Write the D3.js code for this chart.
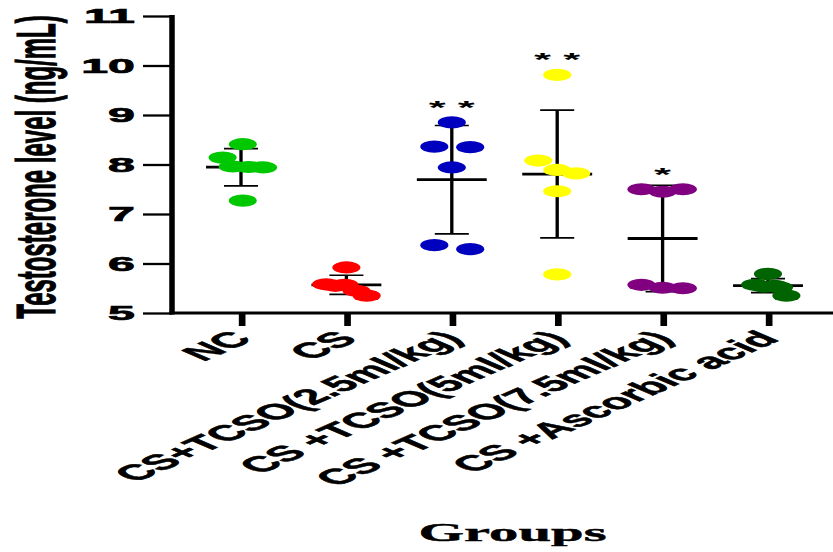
<!DOCTYPE html>
<html>
<head>
<meta charset="utf-8">
<script src="https://cdn.jsdelivr.net/npm/d3@7"></script>
<style>
  html, body { margin: 0; padding: 0; background: #fff; overflow: hidden; }
  svg { display: block; }
</style>
</head>
<body>
<svg id="chart"></svg>
<script>
// Groups and their dot colours
const groups = ["NC", "CS", "CS+TCSO(2.5ml/kg)", "CS +TCSO(5ml/kg)", "CS +TCSO(7.5ml/kg)", "CS +Ascorbic acid"];
const groupColors = ["#00c800", "#ff0000", "#0000bf", "#ffff00", "#800080", "#006400"];

// Testosterone (ng/mL), six animals per group
const valuesNC     = [8.41, 8.14, 7.96, 7.94, 7.95, 7.27];
const valuesCS     = [5.92, 5.58, 5.57, 5.45, 5.35, 5.55];
const valuesTCSO25 = [8.85, 8.36, 8.35, 7.94, 6.37, 6.29];
const valuesTCSO5  = [9.81, 8.08, 7.89, 7.82, 7.46, 5.78];
const valuesTCSO75 = [7.50, 7.45, 7.50, 5.57, 5.51, 5.50];
const valuesAA     = [5.79, 5.57, 5.55, 5.35, 5.53, 5.52];

// Horizontal scatter slot of each point (so overlapping dots stay visible)
const slotsNC     = [0.1, -1.0, -0.45, 1.2, 0.4, 0.1];
const slotsCS     = [0, -1.1, -0.1, 0.55, 1.1, -0.6];
const slotsTCSO25 = [0, -0.95, 1.0, 0, -0.95, 1.0];
const slotsTCSO5  = [0, -1.03, 0, 1.03, 0, 0];
const slotsTCSO75 = [-1.15, 0, 1.1, -1.15, 0, 1.1];
const slotsAA     = [0, -0.7, 0.35, 1.0, -0.2, 0.6];

const significance = ["", "", "* *", "* *", "*", ""];
const yTicks = [5, 6, 7, 8, 9, 10, 11];

const groupValues = [valuesNC, valuesCS, valuesTCSO25, valuesTCSO5, valuesTCSO75, valuesAA];
const groupSlots  = [slotsNC, slotsCS, slotsTCSO25, slotsTCSO5, slotsTCSO75, slotsAA];

// The figure is drawn in a narrow coordinate space and stretched to fill the page width
const W = 833, H = 552, SX = 2.3, VW = W / SX;
const svg = d3.select("#chart")
  .attr("width", W).attr("height", H)
  .attr("viewBox", `0 0 ${VW} ${H}`)
  .attr("preserveAspectRatio", "none");

const FONT = "'Liberation Sans', Arial, Helvetica, sans-serif";
const plotLeft = 172 / SX;
const y = d3.scaleLinear().domain([5, 11]).range([313, 16]);
const x = d3.scalePoint().domain(groups).range([241 / SX, 768 / SX]);

// Y axis
const yAxis = svg.append("g")
  .attr("transform", `translate(${plotLeft},0)`)
  .call(d3.axisLeft(y).tickValues(yTicks).tickSize(12.6).tickPadding(3.5).tickFormat(d3.format("d")));
yAxis.select(".domain").remove();
yAxis.selectAll(".tick line").attr("stroke", "#000").attr("stroke-width", 2.3);
yAxis.selectAll(".tick text")
  .attr("fill", "#000")
  .style("font-family", FONT).style("font-weight", "bold").style("font-size", "21px")
  .attr("stroke", "#000").attr("stroke-width", 0.7);
svg.append("line")
  .attr("x1", plotLeft).attr("x2", plotLeft)
  .attr("y1", y(11) - 1).attr("y2", y(5) + 1.5)
  .attr("stroke", "#000").attr("stroke-width", 2.4);

// X axis
const xAxis = svg.append("g")
  .attr("transform", `translate(0,${y(5)})`)
  .call(d3.axisBottom(x).tickSize(13).tickFormat(""));
xAxis.select(".domain").remove();
xAxis.selectAll(".tick line").attr("stroke", "#000").attr("stroke-width", 2.9);
svg.append("line")
  .attr("x1", plotLeft - 1.2).attr("x2", VW)
  .attr("y1", y(5)).attr("y2", y(5))
  .attr("stroke", "#000").attr("stroke-width", 3);

svg.append("g").selectAll("text")
  .data(groups)
  .join("text")
  .attr("transform", d => `translate(${x(d) + 5.5},340) rotate(-45)`)
  .attr("text-anchor", "end")
  .style("font-family", FONT).style("font-weight", "bold").style("font-size", "21.5px")
  .attr("fill", "#000").attr("stroke", "#000").attr("stroke-width", 0.5)
  .text(d => d);

// Axis titles
svg.append("text")
  .attr("transform", `translate(24,167) rotate(-90)`)
  .attr("text-anchor", "middle")
  .style("font-family", FONT).style("font-weight", "bold").style("font-size", "24px")
  .attr("fill", "#000").attr("stroke", "#000").attr("stroke-width", 0.5)
  .text("Testosterone level (ng/mL)");

svg.append("text")
  .attr("x", 512.5 / SX).attr("y", 541.5)
  .attr("text-anchor", "middle")
  .style("font-family", "'Liberation Serif', 'Times New Roman', serif")
  .style("font-weight", "bold").style("font-size", "25.5px")
  .attr("fill", "#000").attr("stroke", "#000").attr("stroke-width", 0.4)
  .text("Groups");

// Mean ± SD for each group
const stats = groups.map((g, i) => {
  const vals = groupValues[i];
  const m = d3.mean(vals), sd = d3.deviation(vals);
  return { g, i, m, sd, max: d3.max(vals) };
});

const bars = svg.append("g");
stats.forEach(s => {
  const cx = x(s.g);
  bars.append("line")
    .attr("x1", cx).attr("x2", cx).attr("y1", y(s.m + s.sd)).attr("y2", y(s.m - s.sd))
    .attr("stroke", "#000").attr("stroke-width", 1.45);
  [s.m + s.sd, s.m - s.sd].forEach(v => {
    bars.append("line")
      .attr("x1", cx - 7.4).attr("x2", cx + 7.4).attr("y1", y(v)).attr("y2", y(v))
      .attr("stroke", "#000").attr("stroke-width", 1.7);
  });
  bars.append("line")
    .attr("x1", cx - 15.2).attr("x2", cx + 15.2).attr("y1", y(s.m)).attr("y2", y(s.m))
    .attr("stroke", "#000").attr("stroke-width", 2.8);
});

// Individual animals
const R = 6.1, SLOT = 8;
groups.forEach((g, i) => {
  svg.append("g").selectAll("circle")
    .data(groupValues[i].map((v, k) => ({ v, s: groupSlots[i][k] })))
    .join("circle")
    .attr("cx", d => x(g) + d.s * SLOT)
    .attr("cy", d => y(d.v))
    .attr("r", R)
    .attr("fill", groupColors[i]);
});

// Significance marks above each group
svg.append("g").selectAll("text")
  .data(stats.filter(s => significance[s.i]))
  .join("text")
  .attr("x", s => x(s.g))
  .attr("y", s => Math.min(y(s.max) - R, y(s.m + s.sd)) - 15 + 12.5)
  .attr("text-anchor", "middle")
  .style("font-family", FONT).style("font-weight", "bold").style("font-size", "19px")
  .attr("fill", "#000")
  .text(s => significance[s.i]);
</script>
</body>
</html>
